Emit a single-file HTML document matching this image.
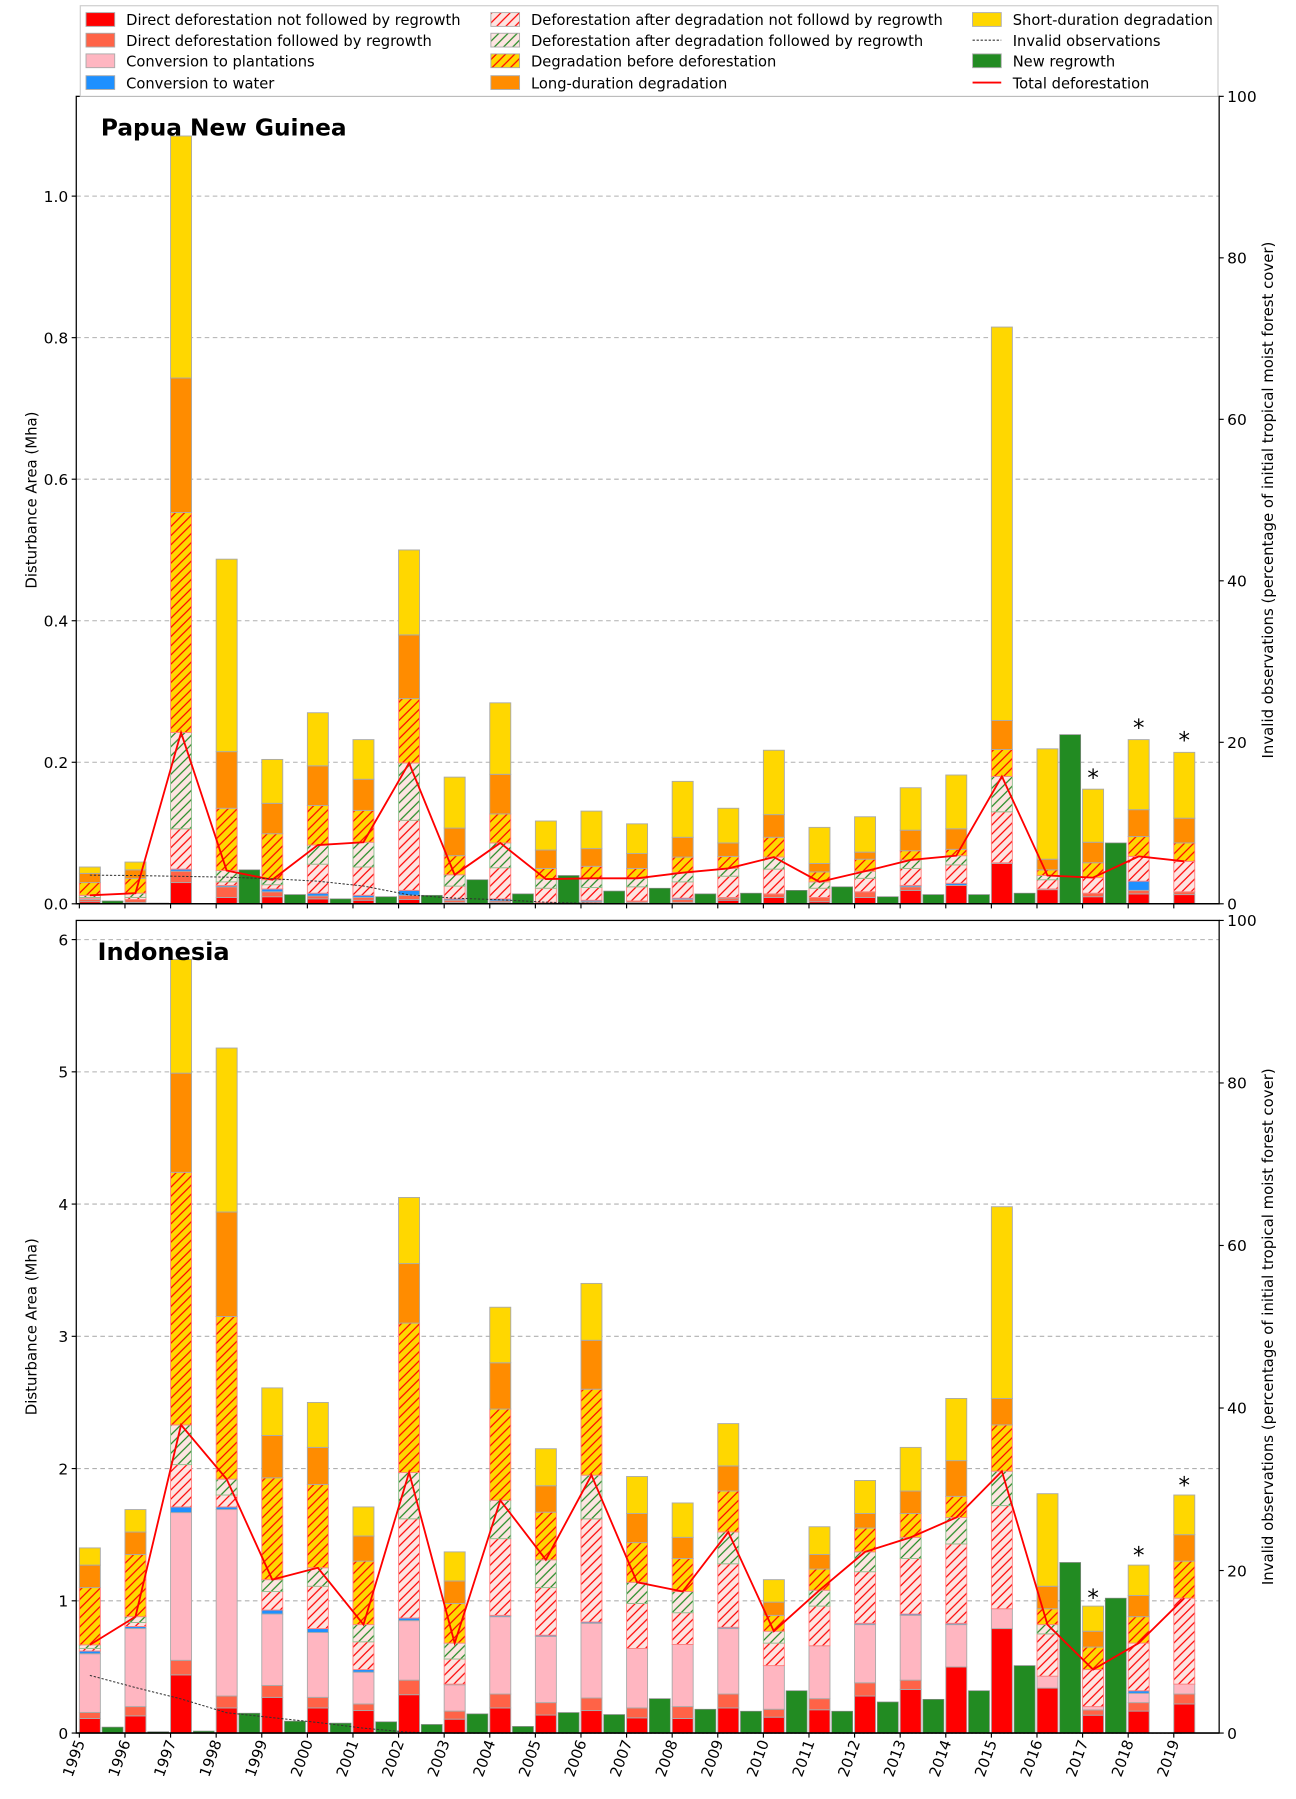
<!DOCTYPE html>
<html><head><meta charset="utf-8"><style>
html,body{margin:0;padding:0;background:#fff}
svg{display:block}
text{font-family:"DejaVu Sans","Liberation Sans",sans-serif}
</style></head><body>
<svg id="s" xmlns="http://www.w3.org/2000/svg" width="1296" height="1799" viewBox="0 0 1130 1568.5" preserveAspectRatio="none">
<defs>
<pattern id="hR" patternUnits="userSpaceOnUse" width="8" height="8"><rect width="8" height="8" fill="#fde4e1"/><path d="M-2,10 L10,-2 M-2,2 L2,-2 M6,10 L10,6" stroke="#ff0000" stroke-width="1.1"/></pattern>
<pattern id="hG" patternUnits="userSpaceOnUse" width="8" height="8"><rect width="8" height="8" fill="#fde4e1"/><path d="M-2,10 L10,-2 M-2,2 L2,-2 M6,10 L10,6" stroke="#228b22" stroke-width="1.1"/></pattern>
<pattern id="hY" patternUnits="userSpaceOnUse" width="8" height="8"><rect width="8" height="8" fill="#ffd700"/><path d="M-2,10 L10,-2 M-2,2 L2,-2 M6,10 L10,6" stroke="#ff0000" stroke-width="1.1"/></pattern>
</defs>
<g id="g"></g>
</svg>
<script>
var fills=["#ff0000","#ff6347","#ffb6c1","#1e90ff","url(#hR)","url(#hG)","url(#hY)","#ff8c00","#ffd700"];
var strokes=["#aaa","#aaa","#aaa","#aaa","#ff8080","#90c090","#ff8080","#aaa","#aaa"];
var png=[
[0.003,0.006,0.008,0.008,0.009,0.012,0.03,0.043,0.052],
[0.002,0.006,0.006,0.006,0.009,0.015,0.036,0.048,0.059],
[0.030,0.046,0.046,0.049,0.106,0.242,0.553,0.743,1.085],
[0.009,0.024,0.024,0.026,0.031,0.047,0.135,0.215,0.487],
[0.010,0.017,0.017,0.021,0.027,0.034,0.099,0.142,0.204],
[0.007,0.011,0.011,0.015,0.056,0.083,0.139,0.195,0.270],
[0.005,0.009,0.009,0.012,0.052,0.087,0.132,0.176,0.232],
[0.006,0.012,0.012,0.019,0.118,0.199,0.290,0.380,0.500],
[0.002,0.005,0.005,0.007,0.025,0.041,0.068,0.107,0.179],
[0.002,0.004,0.004,0.007,0.051,0.086,0.127,0.183,0.284],
[0.001,0.002,0.002,0.002,0.022,0.035,0.050,0.076,0.117],
[0.001,0.003,0.003,0.005,0.023,0.036,0.053,0.078,0.131],
[0.002,0.004,0.004,0.004,0.024,0.036,0.050,0.071,0.113],
[0.002,0.006,0.006,0.008,0.031,0.044,0.066,0.094,0.173],
[0.005,0.008,0.008,0.009,0.039,0.050,0.067,0.086,0.135],
[0.009,0.014,0.014,0.014,0.049,0.066,0.094,0.126,0.217],
[0.003,0.009,0.009,0.009,0.022,0.031,0.045,0.057,0.108],
[0.009,0.017,0.017,0.017,0.036,0.046,0.063,0.073,0.123],
[0.019,0.024,0.024,0.026,0.050,0.062,0.075,0.104,0.164],
[0.026,0.026,0.026,0.029,0.055,0.068,0.077,0.106,0.182],
[0.057,0.058,0.058,0.058,0.130,0.180,0.218,0.259,0.815],
[0.020,0.021,0.021,0.021,0.034,0.040,0.048,0.063,0.219],
[0.010,0.015,0.015,0.015,0.037,0.037,0.058,0.087,0.162],
[0.014,0.019,0.019,0.032,0.067,0.067,0.095,0.133,0.232],
[0.013,0.017,0.017,0.017,0.060,0.060,0.086,0.121,0.214]];
var pngG=[0.004,0.001,0,0.048,0.013,0.007,0.010,0.012,0.034,0.014,0.040,0.018,0.022,0.014,0.015,0.019,0.024,0.010,0.013,0.013,0.015,0.239,0.086,0,0];
var pngI=[3.55,3.5,3.4,3.3,3.1,2.8,2.2,1.1,0.7,0.5,0.2,0.05,0,0,0,0,0,0,0,0,0,0,0,0,0];
var ind=[
[0.11,0.156,0.60,0.62,0.64,0.667,1.10,1.27,1.40],
[0.13,0.20,0.79,0.806,0.836,0.88,1.35,1.52,1.69],
[0.44,0.55,1.667,1.71,2.03,2.33,4.24,4.99,5.85],
[0.19,0.28,1.69,1.71,1.80,1.92,3.15,3.94,5.18],
[0.27,0.36,0.90,0.93,1.07,1.16,1.93,2.25,2.61],
[0.19,0.27,0.76,0.79,1.11,1.25,1.88,2.16,2.50],
[0.17,0.22,0.46,0.48,0.69,0.82,1.30,1.49,1.71],
[0.29,0.40,0.85,0.87,1.62,1.97,3.10,3.55,4.05],
[0.105,0.166,0.365,0.37,0.56,0.68,0.98,1.15,1.37],
[0.19,0.295,0.88,0.89,1.47,1.76,2.45,2.80,3.22],
[0.136,0.23,0.73,0.74,1.10,1.31,1.67,1.87,2.15],
[0.17,0.265,0.83,0.84,1.62,1.95,2.60,2.97,3.40],
[0.115,0.19,0.64,0.64,0.98,1.14,1.44,1.66,1.94],
[0.11,0.20,0.67,0.67,0.91,1.07,1.32,1.48,1.74],
[0.19,0.295,0.79,0.80,1.28,1.52,1.83,2.02,2.34],
[0.12,0.18,0.51,0.51,0.68,0.77,0.89,0.99,1.16],
[0.176,0.26,0.66,0.66,0.96,1.08,1.24,1.35,1.56],
[0.28,0.38,0.82,0.83,1.22,1.37,1.55,1.66,1.91],
[0.33,0.40,0.89,0.90,1.32,1.48,1.66,1.83,2.16],
[0.50,0.50,0.82,0.83,1.43,1.63,1.79,2.06,2.53],
[0.79,0.79,0.94,0.94,1.72,1.98,2.33,2.53,3.98],
[0.34,0.34,0.43,0.43,0.75,0.82,0.94,1.11,1.81],
[0.135,0.175,0.20,0.20,0.48,0.48,0.65,0.77,0.96],
[0.166,0.23,0.30,0.32,0.68,0.68,0.88,1.04,1.27],
[0.22,0.295,0.37,0.37,1.02,1.02,1.30,1.50,1.80]];
var indG=[0.045,0.01,0.015,0.15,0.09,0.075,0.085,0.065,0.145,0.05,0.155,0.14,0.26,0.18,0.165,0.32,0.165,0.235,0.255,0.32,0.51,1.29,1.02,0,0];
var indI=[7.1,5.6,4.2,2.5,1.9,1.3,0.6,0.1,0,0,0,0,0,0,0,0,0,0,0,0,0,0,0,0,0];
var h='';
var L=66.5,R=1063,S=39.76,X0=69.2,BW=18.3;
function panel(data,gr,inv,y0,ytop,ppu,ticks,fmt,title,ty,tsize,stars){
  ticks.forEach(function(t){var y=y0-t*ppu;
    if(t>0)h+='<line x1="'+L+'" x2="'+R+'" y1="'+y+'" y2="'+y+'" stroke="#b0b0b0" stroke-width="0.9" stroke-dasharray="4,3"/>';
    h+='<line x1="'+(L-4)+'" x2="'+L+'" y1="'+y+'" y2="'+y+'" stroke="#000"/>';
    h+='<text x="'+(L-7)+'" y="'+(y+5)+'" font-size="13.5" text-anchor="end">'+fmt(t)+'</text>';});
  for(var i=0;i<25;i++){var x=X0+S*i;var d=data[i];var prev=0;
    for(var k=0;k<9;k++){var v=d[k];if(v-prev>0.0005){var yt=y0-v*ppu,yb=y0-prev*ppu;
      h+='<rect x="'+x+'" y="'+yt+'" width="'+BW+'" height="'+(yb-yt)+'" fill="'+fills[k]+'" stroke="'+strokes[k]+'" stroke-width="0.8"/>';}prev=v;}
    if(gr[i]>0){var yt=y0-gr[i]*ppu;h+='<rect x="'+(x+BW+1.5)+'" y="'+yt+'" width="'+BW+'" height="'+(y0-yt)+'" fill="#228b22" stroke="#888" stroke-width="0.6"/>';}
  }
  var p='';for(var i=0;i<25;i++){p+=(i?'L':'M')+(X0+S*i+BW/2)+','+(y0-data[i][5]*ppu);}
  h+='<path d="'+p+'" fill="none" stroke="#ff0000" stroke-width="1.6"/>';
  p='';var ph=(y0-ytop)/100;for(var i=0;i<25;i++){p+=(i?'L':'M')+(X0+S*i+BW/2)+','+(y0-inv[i]*ph);}
  h+='<path d="'+p+'" fill="none" stroke="#333" stroke-width="0.9" stroke-dasharray="2,1.5"/>';
  stars.forEach(function(s){h+='<text x="'+(X0+S*s[0]+BW/2)+'" y="'+(y0-s[1]*ppu+3)+'" font-size="20" text-anchor="middle">*</text>';});
  h+='<rect x="'+L+'" y="'+ytop+'" width="'+(R-L)+'" height="'+(y0-ytop)+'" fill="none" stroke="#000" stroke-width="1.1"/>';
  h+='<line x1="'+L+'" x2="'+R+'" y1="'+y0+'" y2="'+y0+'" stroke="#000" stroke-width="1.3"/>';
  for(var i=0;i<25;i++){var x=X0+S*i;h+='<line x1="'+x+'" x2="'+x+'" y1="'+y0+'" y2="'+(y0+4)+'" stroke="#000"/>';}
  [0,20,40,60,80,100].forEach(function(t){var y=y0-t*ph;h+='<line x1="'+R+'" x2="'+(R+4)+'" y1="'+y+'" y2="'+y+'" stroke="#000"/><text x="'+(R+7)+'" y="'+(y+5)+'" font-size="13.5">'+t+'</text>';});
  h+='<text x="'+(title=='Indonesia'?85:88)+'" y="'+ty+'" font-size="'+tsize+'" font-weight="bold">'+title+'</text>';
  var cy=(y0+ytop)/2;
  h+='<text transform="translate(32,'+cy+') rotate(-90)" font-size="13" text-anchor="middle">Disturbance Area (Mha)</text>';
  h+='<text transform="translate(1110,'+cy+') rotate(-90)" font-size="13" text-anchor="middle">Invalid observations (percentage of initial tropical moist forest cover)</text>';
}
panel(png,pngG,pngI,788,84,617,[0,0.2,0.4,0.6,0.8,1.0],function(t){return t.toFixed(1)},'Papua New Guinea',118,20.3,[[22,0.172],[23,0.243],[24,0.225]]);
panel(ind,indG,indI,1511,802.5,115.3,[0,1,2,3,4,5,6],function(t){return t},'Indonesia',837,21,[[22,0.99],[23,1.31],[24,1.84]]);
for(var i=0;i<25;i++){var x=X0+S*i;h+='<text transform="translate('+(x+5)+',1519) rotate(-70)" font-size="13" text-anchor="end">'+(1995+i)+'</text>';}
h+='<rect x="70" y="5" width="992" height="79" fill="#fff" stroke="#ccc"/>';
var leg=[[75,17,'s','#ff0000','Direct deforestation not followed by regrowth'],[75,35,'s','#ff6347','Direct deforestation followed by regrowth'],[75,53,'s','#ffb6c1','Conversion to plantations'],[75,72,'s','#1e90ff','Conversion to water'],
[428,17,'s','url(#hR)','Deforestation after degradation not followd by regrowth'],[428,35,'s','url(#hG)','Deforestation after degradation followed by regrowth'],[428,53,'s','url(#hY)','Degradation before deforestation'],[428,72,'s','#ff8c00','Long-duration degradation'],
[848,17,'s','#ffd700','Short-duration degradation'],[848,35,'d','','Invalid observations'],[848,53,'s','#228b22','New regrowth'],[848,72,'l','','Total deforestation']];
leg.forEach(function(e){var x=e[0],y=e[1];
 if(e[2]=='s')h+='<rect x="'+x+'" y="'+(y-6)+'" width="25" height="12" fill="'+e[3]+'" stroke="#aaa" stroke-width="0.8"/>';
 else if(e[2]=='d')h+='<line x1="'+x+'" x2="'+(x+25)+'" y1="'+y+'" y2="'+y+'" stroke="#333" stroke-dasharray="2,1.5"/>';
 else h+='<line x1="'+x+'" x2="'+(x+25)+'" y1="'+y+'" y2="'+y+'" stroke="#f00" stroke-width="1.6"/>';
 h+='<text x="'+(x+35)+'" y="'+(y+5)+'" font-size="12.8">'+e[4]+'</text>';});
document.getElementById('g').innerHTML=h;
</script>
</body></html>
